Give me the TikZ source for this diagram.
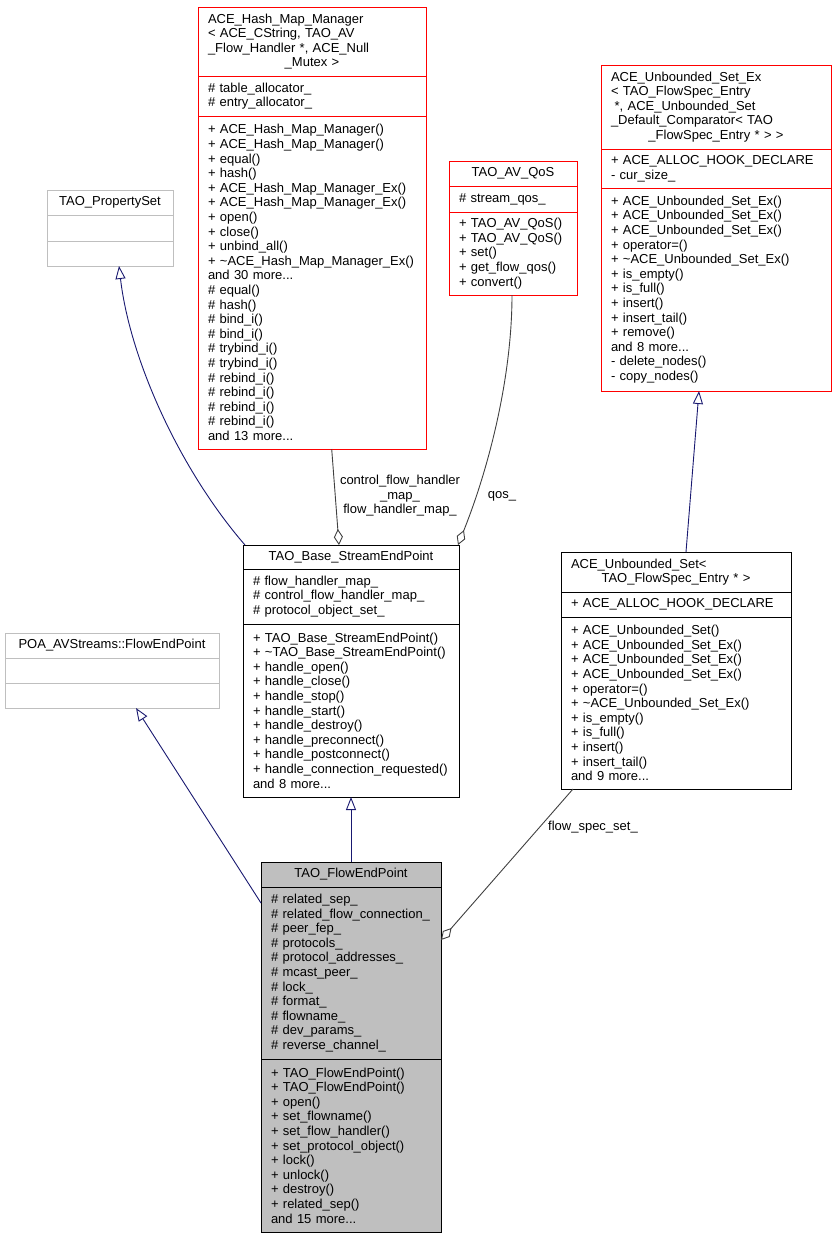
\documentclass[tikz,border=0pt]{standalone}
\usepackage{fontspec}
\setmainfont{Liberation Sans}
\usetikzlibrary{arrows.meta}
\definecolor{navyedge}{HTML}{191970}
\definecolor{grayedge}{HTML}{404040}
\definecolor{boxgray}{HTML}{BFBFBF}
\definecolor{boxred}{HTML}{FF0000}
\begin{document}
\hyphenpenalty=10000 \exhyphenpenalty=10000
\begin{tikzpicture}[x=1pt,y=-1pt,
  every node/.style={font=\fontsize{13pt}{14.6pt}\selectfont},
  cmp/.style={draw, line width=1pt, outer sep=0pt, inner xsep=10pt, inner ysep=0pt, anchor=north west},
  classR/.style={cmp, draw=boxred},
  classG/.style={cmp, draw=boxgray},
  classB/.style={cmp, draw=black},
  classF/.style={cmp, draw=black, fill=boxgray},
  inh/.style={draw=navyedge, line width=0.9pt, -{Triangle[open, length=13pt, width=10pt]}},
  use/.style={draw=grayedge, line width=0.9pt, -{Diamond[open, length=16pt, width=9pt]}},
  lbl/.style={inner sep=0pt, align=center}
]
\useasboundingbox (0,0) rectangle (836,1237);

% ACE_Hash_Map_Manager
\node[classR, minimum width=228pt, text width=208pt, minimum height=69pt, align=left] (hashT) at (198,7)
 {ACE\_Hash\_Map\_Manager\\<~ACE\_CString,~TAO\_AV\\\_Flow\_Handler~*,~ACE\_Null\\\makebox[\hsize]{\_Mutex~>}};
\node[classR, minimum width=228pt, text width=208pt, minimum height=40pt, align=left] (hashA) at (198,76)
 {\#~table\_allocator\_\\\#~entry\_allocator\_};
\node[classR, minimum width=228pt, text width=208pt, minimum height=333pt, align=left] (hashM) at (198,116)
 {+~ACE\_Hash\_Map\_Manager()\\
  +~ACE\_Hash\_Map\_Manager()\\
  +~equal()\\
  +~hash()\\
  +~ACE\_Hash\_Map\_Manager\_Ex()\\
  +~ACE\_Hash\_Map\_Manager\_Ex()\\
  +~open()\\
  +~close()\\
  +~unbind\_all()\\
  +~\textasciitilde ACE\_Hash\_Map\_Manager\_Ex()\\
  and~30~more...\\
  \#~equal()\\
  \#~hash()\\
  \#~bind\_i()\\
  \#~bind\_i()\\
  \#~trybind\_i()\\
  \#~trybind\_i()\\
  \#~rebind\_i()\\
  \#~rebind\_i()\\
  \#~rebind\_i()\\
  \#~rebind\_i()\\
  and~13~more...};

% TAO_PropertySet
\node[classG, minimum width=126pt, minimum height=25pt, align=center] (propT) at (47,190) {TAO\_PropertySet};
\node[classG, minimum width=126pt, minimum height=26pt] (propA) at (47,215) {};
\node[classG, minimum width=126pt, minimum height=25pt] (propC) at (47,241) {};

% TAO_AV_QoS
\node[classR, minimum width=128pt, minimum height=25pt, align=center] (qosT) at (449,161) {TAO\_AV\_QoS};
\node[classR, minimum width=128pt, text width=108pt, minimum height=26pt, align=left] (qosA) at (449,186) {\#~stream\_qos\_};
\node[classR, minimum width=128pt, text width=108pt, minimum height=83pt, align=left] (qosM) at (449,212)
 {+~TAO\_AV\_QoS()\\+~TAO\_AV\_QoS()\\+~set()\\+~get\_flow\_qos()\\+~convert()};

% ACE_Unbounded_Set_Ex
\node[classR, minimum width=230pt, text width=210pt, minimum height=84pt, align=left] (usexT) at (601,65)
 {ACE\_Unbounded\_Set\_Ex\\<~TAO\_FlowSpec\_Entry\\\hspace*{3.6pt}*,~ACE\_Unbounded\_Set\\\_Default\_Comparator<~TAO\\\makebox[\hsize]{\_FlowSpec\_Entry~*~>~>}};
\node[classR, minimum width=230pt, text width=210pt, minimum height=39pt, align=left] (usexA) at (601,149)
 {+~ACE\_ALLOC\_HOOK\_DECLARE\\-~cur\_size\_};
\node[classR, minimum width=230pt, text width=210pt, minimum height=203pt, align=left] (usexM) at (601,188)
 {+~ACE\_Unbounded\_Set\_Ex()\\
  +~ACE\_Unbounded\_Set\_Ex()\\
  +~ACE\_Unbounded\_Set\_Ex()\\
  +~operator=()\\
  +~\textasciitilde ACE\_Unbounded\_Set\_Ex()\\
  +~is\_empty()\\
  +~is\_full()\\
  +~insert()\\
  +~insert\_tail()\\
  +~remove()\\
  and~8~more...\\
  -~delete\_nodes()\\
  -~copy\_nodes()};

% POA_AVStreams::FlowEndPoint
\node[classG, minimum width=214pt, minimum height=25pt, align=center] (poaT) at (5,633) {POA\_AVStreams::FlowEndPoint};
\node[classG, minimum width=214pt, minimum height=25pt] (poaA) at (5,658) {};
\node[classG, minimum width=214pt, minimum height=25pt] (poaC) at (5,683) {};

% TAO_Base_StreamEndPoint
\node[classB, minimum width=216pt, minimum height=24pt, align=center] (baseT) at (243,545) {TAO\_Base\_StreamEndPoint};
\node[classB, minimum width=216pt, text width=196pt, minimum height=55pt, align=left] (baseA) at (243,569)
 {\#~flow\_handler\_map\_\\\#~control\_flow\_handler\_map\_\\\#~protocol\_object\_set\_};
\node[classB, minimum width=216pt, text width=196pt, minimum height=173pt, align=left] (baseM) at (243,624)
 {+~TAO\_Base\_StreamEndPoint()\\
  +~\textasciitilde TAO\_Base\_StreamEndPoint()\\
  +~handle\_open()\\
  +~handle\_close()\\
  +~handle\_stop()\\
  +~handle\_start()\\
  +~handle\_destroy()\\
  +~handle\_preconnect()\\
  +~handle\_postconnect()\\
  +~handle\_connection\_requested()\\
  and~8~more...};

% ACE_Unbounded_Set
\node[classB, minimum width=230pt, text width=210pt, minimum height=40pt, align=left] (usT) at (561,552)
 {ACE\_Unbounded\_Set<\\\makebox[\hsize]{TAO\_FlowSpec\_Entry~*~>}};
\node[classB, minimum width=230pt, text width=210pt, minimum height=25pt, align=left] (usA) at (561,592)
 {+~ACE\_ALLOC\_HOOK\_DECLARE};
\node[classB, minimum width=230pt, text width=210pt, minimum height=172pt, align=left] (usM) at (561,617)
 {+~ACE\_Unbounded\_Set()\\
  +~ACE\_Unbounded\_Set\_Ex()\\
  +~ACE\_Unbounded\_Set\_Ex()\\
  +~ACE\_Unbounded\_Set\_Ex()\\
  +~operator=()\\
  +~\textasciitilde ACE\_Unbounded\_Set\_Ex()\\
  +~is\_empty()\\
  +~is\_full()\\
  +~insert()\\
  +~insert\_tail()\\
  and~9~more...};

% TAO_FlowEndPoint
\node[classF, minimum width=180pt, minimum height=25pt, align=center] (fepT) at (261,862) {TAO\_FlowEndPoint};
\node[classF, minimum width=180pt, text width=160pt, minimum height=172pt, align=left] (fepA) at (261,887)
 {\#~related\_sep\_\\
  \#~related\_flow\_connection\_\\
  \#~peer\_fep\_\\
  \#~protocols\_\\
  \#~protocol\_addresses\_\\
  \#~mcast\_peer\_\\
  \#~lock\_\\
  \#~format\_\\
  \#~flowname\_\\
  \#~dev\_params\_\\
  \#~reverse\_channel\_};
\node[classF, minimum width=180pt, text width=160pt, minimum height=173pt, align=left] (fepM) at (261,1059)
 {+~TAO\_FlowEndPoint()\\
  +~TAO\_FlowEndPoint()\\
  +~open()\\
  +~set\_flowname()\\
  +~set\_flow\_handler()\\
  +~set\_protocol\_object()\\
  +~lock()\\
  +~unlock()\\
  +~destroy()\\
  +~related\_sep()\\
  and~15~more...};

% edges
\draw[inh] ([xshift=2pt]baseT.north west) .. controls (180,470) and (130,360) .. ([xshift=9pt]propC.south);
\draw[inh] ([yshift=-16pt]fepA.north west) -- ([xshift=24pt]poaC.south);
\draw[inh] (fepT.north) -- (baseM.south);
\draw[inh] ([xshift=10pt]usT.north) -- ([xshift=-17pt]usexM.south);
\draw[use] ([xshift=19.7pt]hashM.south) -- ([xshift=-12pt]baseT.north);
\draw[use] ([xshift=-1pt]qosM.south) .. controls (512,375) and (490,465) .. ([xshift=-1pt]baseT.north east);
\draw[use] ([xshift=12pt]usM.south west) -- ([yshift=33pt]fepA.east);

% edge labels
\node[lbl] (lblHash) at (400,496) {control\_flow\_handler\\\_map\_\\flow\_handler\_map\_};
\node[lbl] (lblQos) at (502,496) {qos\_};
\node[lbl] (lblFs) at (593,827) {flow\_spec\_set\_};
\end{tikzpicture}
\end{document}
